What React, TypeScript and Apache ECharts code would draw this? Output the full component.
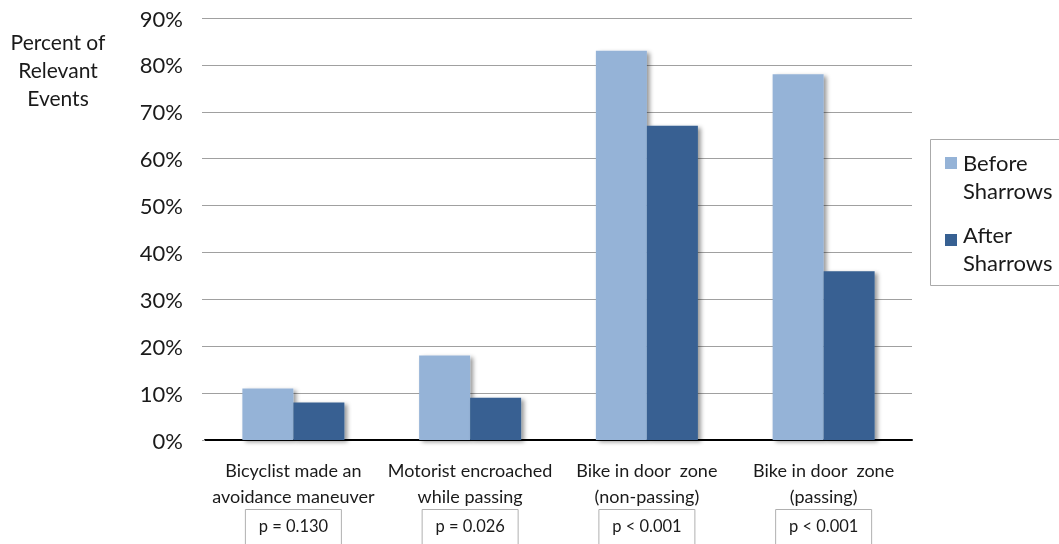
import React, { useEffect, useRef } from "react";
import * as echarts from "echarts";

const categories = [
  "Bicyclist made an\navoidance maneuver",
  "Motorist encroached\nwhile passing",
  "Bike in door  zone\n(non-passing)",
  "Bike in door  zone\n(passing)",
];
const pValues = ["p = 0.130", "p = 0.026", "p < 0.001", "p < 0.001"];
const seriesNames = ["Before Sharrows", "After Sharrows"];
const beforeValues = [11, 18, 83, 78];
const afterValues = [8, 9, 67, 36];
const colors = ["#95b3d7", "#376092"];

const FONT = "Lato, 'Open Sans', sans-serif";

export default function App() {
  const ref = useRef<HTMLDivElement>(null);
  useEffect(() => {
    if (!ref.current) return;
    const chart = echarts.init(ref.current, null, { renderer: "svg" });
    const labelMap: Record<string, string> = {};
    categories.forEach((c, i) => {
      labelMap[c] = c
        .split("\n")
        .map((l) => `{a|${l}}`)
        .join("\n") + `\n{s|}\n{p|${pValues[i]}}`;
    });
    const shadow = {
      shadowBlur: 4,
      shadowColor: "rgba(0,0,0,0.4)",
      shadowOffsetX: 3,
      shadowOffsetY: 2,
    };
    chart.setOption({
      animation: false,
      textStyle: { fontFamily: FONT },
      grid: {
        left: 205,
        right: 147,
        top: 18,
        bottom: 104,
        containLabel: false,
        outerBoundsMode: "none",
      },
      xAxis: {
        type: "category",
        data: categories,
        axisLine: { show: true, lineStyle: { color: "#000", width: 2 } },
        axisTick: { show: false },
        axisLabel: {
          interval: 0,
          margin: 17,
          formatter: (v: string) => labelMap[v],
          rich: {
            a: { fontSize: 18, lineHeight: 26, color: "#1a1a1a", fontFamily: FONT },
            s: { fontSize: 8, lineHeight: 8 },
            p: {
              fontSize: 16.5,
              lineHeight: 20,
              color: "#1a1a1a",
              fontFamily: FONT,
              borderColor: "#b0b0b0",
              borderWidth: 1,
              padding: [8, 16, 10, 16],
              width: 64,
              align: "center",
            },
          },
        },
      },
      yAxis: {
        type: "value",
        min: 0,
        max: 90,
        interval: 10,
        axisLine: { show: false },
        axisTick: { show: true, length: 3, lineStyle: { color: "#a0a0a0" } },
        axisLabel: {
          formatter: "{value}%",
          fontSize: 22,
          color: "#1a1a1a",
          margin: 22,
          fontFamily: FONT,
        },
        splitLine: { lineStyle: { color: "#a0a0a0", width: 1 } },
      },
      series: [
        {
          name: seriesNames[0],
          type: "bar",
          data: beforeValues,
          barWidth: 51,
          barGap: "0%",
          itemStyle: { color: colors[0], ...shadow },
        },
        {
          name: seriesNames[1],
          type: "bar",
          data: afterValues,
          barWidth: 51,
          barGap: "0%",
          itemStyle: { color: colors[1], ...shadow },
        },
      ],
      graphic: [
        {
          type: "text",
          x: 58,
          y: 27,
          style: {
            text: "Percent of\nRelevant\nEvents",
            fontSize: 21,
            lineHeight: 28,
            fill: "#1a1a1a",
            textAlign: "center",
            fontFamily: FONT,
          },
        },
        {
          type: "rect",
          shape: { x: 930.5, y: 139.5, width: 140, height: 146 },
          style: { fill: "#fff", stroke: "#aaaaaa", lineWidth: 1 },
        },
        ...seriesNames.map((n, i) => ({
          type: "group",
          children: [
            {
              type: "rect",
              shape: { x: 945, y: 157 + i * 77, width: 12, height: 12 },
              style: { fill: colors[i] },
            },
            {
              type: "text",
              x: 963,
              y: 148 + i * 72,
              style: {
                text: n.replace(" ", "\n"),
                fontSize: 22,
                lineHeight: 28,
                fill: "#1a1a1a",
                fontFamily: FONT,
              },
            },
          ],
        })),
      ],
    });
    return () => chart.dispose();
  }, []);
  return (
    <div
      ref={ref}
      style={{ position: "fixed", left: 0, top: 0, width: 1059, height: 544 }}
    />
  );
}
